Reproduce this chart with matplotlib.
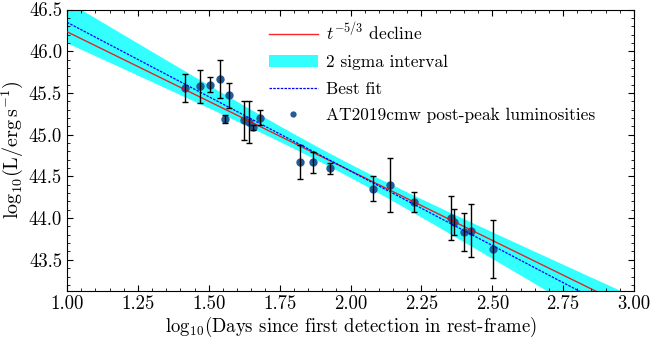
import numpy as np
import matplotlib
matplotlib.use("Agg")
import matplotlib.pyplot as plt
from matplotlib.ticker import MultipleLocator

plt.rcParams['font.family'] = 'serif'
plt.rcParams['font.serif'] = ['cmr10']
plt.rcParams['mathtext.fontset'] = 'cm'
plt.rcParams['axes.formatter.use_mathtext'] = True
plt.rcParams['axes.unicode_minus'] = False

# Data: log10 days since first detection (rest frame), log10 luminosity, errors
log_days = [1.416, 1.469, 1.506, 1.541, 1.556, 1.573, 1.625, 1.643, 1.655, 1.681,
            1.822, 1.867, 1.929, 2.080, 2.139, 2.225, 2.355, 2.366, 2.400, 2.424, 2.503]
log_lum = [45.56, 45.58, 45.60, 45.67, 45.19, 45.47, 45.17, 45.15, 45.09, 45.20,
           44.67, 44.67, 44.60, 44.35, 44.40, 44.19, 44.00, 43.95, 43.83, 43.85, 43.63]
log_lum_err = [0.17, 0.20, 0.09, 0.225, 0.05, 0.155, 0.235, 0.25, 0.03, 0.09,
               0.205, 0.128, 0.066, 0.15, 0.325, 0.12, 0.26, 0.158, 0.23, 0.316, 0.345]

# t^-5/3 decline model and best fit (slope, intercept in log-log)
decline_slope = -5.0 / 3.0
decline_intercept = 47.90
fit_slope = -1.783
fit_intercept = 48.13
# 2-sigma band parameters: half-width = sqrt(s0^2 + (sb*(x - xc))^2)
band_s0 = 0.08
band_sb = 0.25
band_xc = 1.95

xgrid = np.linspace(1.0, 3.0, 400)
fit = fit_intercept + fit_slope * xgrid
half = np.sqrt(band_s0**2 + (band_sb * (xgrid - band_xc))**2)
decline = decline_intercept + decline_slope * xgrid

fig = plt.figure(figsize=(6.52, 3.40), dpi=100)
ax = fig.add_axes([0.1028, 0.145, 0.8696, 0.827])

ax.fill_between(xgrid, fit - half, fit + half, color='cyan', alpha=0.8,
                linewidth=0, label='2 sigma interval', zorder=1)
ax.plot(log_days, log_lum, 'o', color='#1f5c99', markersize=5,
        label='AT2019cmw post-peak luminosities', zorder=2)
ax.plot(xgrid, decline, color='red', lw=1.0, alpha=0.85,
        label=r'$t^{-5/3}$ decline', zorder=3)
ax.plot(xgrid, fit, color='blue', lw=0.9, dashes=(2, 1), label='Best fit', zorder=3)
ax.errorbar(log_days, log_lum, yerr=log_lum_err, fmt='none', ecolor='black',
            elinewidth=1.0, capsize=2.5, capthick=1.0, zorder=4)

ax.set_xlim(1.0, 3.0)
ax.set_ylim(43.13, 46.5)
ax.xaxis.set_major_locator(MultipleLocator(0.25))
ax.xaxis.set_minor_locator(MultipleLocator(0.05))
ax.yaxis.set_major_locator(MultipleLocator(0.5))
ax.yaxis.set_minor_locator(MultipleLocator(0.1))
ax.tick_params(which='both', direction='in', top=True, right=True, labelsize=13.5)
ax.tick_params(which='major', length=4.5)
ax.tick_params(which='minor', length=2)
ax.xaxis.set_major_formatter(matplotlib.ticker.FormatStrFormatter('%.2f'))
ax.yaxis.set_major_formatter(matplotlib.ticker.FormatStrFormatter('%.1f'))

ax.set_xlabel(r'$\mathrm{log_{10}}$(Days since first detection in rest-frame)', fontsize=13.5, labelpad=1)
ax.set_ylabel(r'$\mathrm{log_{10}(L/erg\,s^{-1})}$', fontsize=14.5, labelpad=3)

handles, labels = ax.get_legend_handles_labels()
order = [labels.index(r'$t^{-5/3}$ decline'), labels.index('2 sigma interval'),
         labels.index('Best fit'), labels.index('AT2019cmw post-peak luminosities')]
ax.legend([handles[i] for i in order], [labels[i] for i in order],
          loc='upper left', bbox_to_anchor=(0.329, 1.015), frameon=False,
          fontsize=12.5, markerscale=0.7, handlelength=2.8, handletextpad=0.45,
          labelspacing=0.65)

fig.savefig('out.png', dpi=100)
